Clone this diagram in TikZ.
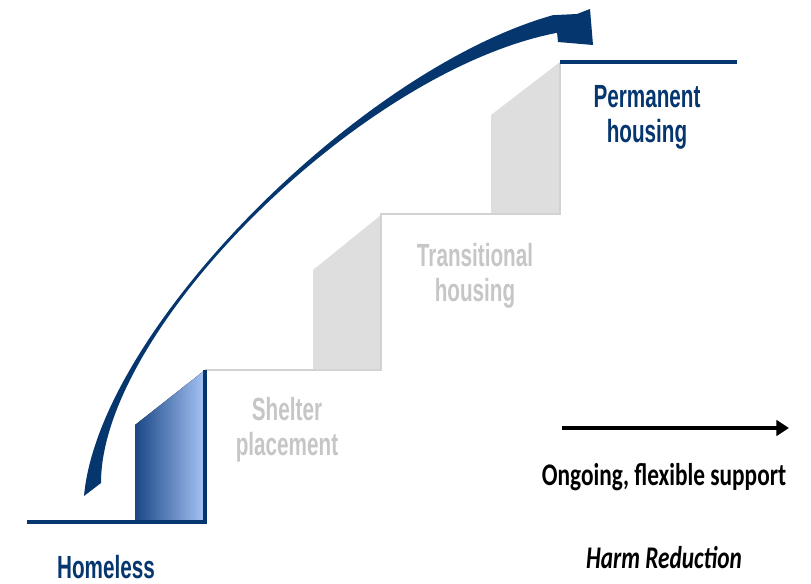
\documentclass[tikz,border=0pt]{standalone}
\usepackage{fontspec}
\usepackage{tikz}
\usetikzlibrary{positioning,arrows.meta}
\newfontfamily\stairfont[FakeStretch=0.645]{Liberation Sans}
\newfontfamily\notefont[FakeStretch=0.74]{Carlito}
\definecolor{navy}{HTML}{06366E}
\definecolor{blockdark}{HTML}{1A4785}
\definecolor{blocklight}{HTML}{A6C4F6}
\definecolor{stairgray}{HTML}{DEDEDE}
\definecolor{treadgray}{HTML}{D2D2D2}
\definecolor{textgray}{HTML}{C6C6C6}
\tikzset{lbl/.style={inner sep=0pt,align=center,font=\stairfont\bfseries\fontsize{22.8}{25}\selectfont},
         note/.style={inner sep=0pt,font=\notefont\bfseries\fontsize{22.4}{25}\selectfont},
         tread/.style={draw=treadgray,line width=2pt},
         floor/.style={draw=navy,line width=3.3pt}}

\begin{document}
\begin{tikzpicture}[x=0.025cm,y=-0.025cm,>=Triangle]
        \useasboundingbox (0,0) rectangle (811,584);
        % stairs
        \fill[left color=blockdark,right color=blocklight] (135,522) -- (135,425) -- (205,370) -- (205,522) -- cycle;
        \fill[stairgray] (313,370) -- (313,270) -- (381,215) -- (381,370) -- cycle;
        \fill[stairgray] (491,214) -- (491,115) -- (560,62) -- (560,214) -- cycle;
        \draw[tread] (205,370) -- (381,370) -- (381,214) -- (560,214) -- (560,63);
        \draw[floor] (27,522) -- (205,522) -- (205,370);
        \draw[floor] (560,62) -- (737,62);

        % big curved arrow
        \fill[navy] (84,496) .. controls (99.2,330) and (359.8,69.3) .. (552.9,15.2)
            -- (577,14) -- (590,9) -- (593,45) -- (558,42) -- (557.1,32.8)
            .. controls (360.2,70.8) and (100.8,330) .. (101,483) -- cycle;

        % labels
        \node[lbl,text=navy,anchor=base] (homeless) at (106,578) {Homeless};
        \node[lbl,text=textgray,anchor=north] (shelter) at (287,397) {Shelter\\placement};
        \node[lbl,text=textgray,anchor=north] (trans) at (475,243) {Transitional\\housing};
        \node[lbl,text=navy,anchor=north] (perm) at (647,85) {Permanent\\housing};

        % support arrow
        \coordinate (sa) at (562,428);
        \coordinate (sb) at (789,428);
        \draw[->,line width=2.8pt,>={Triangle[length=9pt,width=11pt]}] (sa) -- (sb);
        \node[note,anchor=base] (support) at (664,485) {Ongoing, flexible support};
        \node[note,anchor=base,font=\notefont\bfseries\itshape\fontsize{22.4}{25}\selectfont] (harm) at (664,568) {Harm Reduction};
    \end{tikzpicture}
\end{document}
